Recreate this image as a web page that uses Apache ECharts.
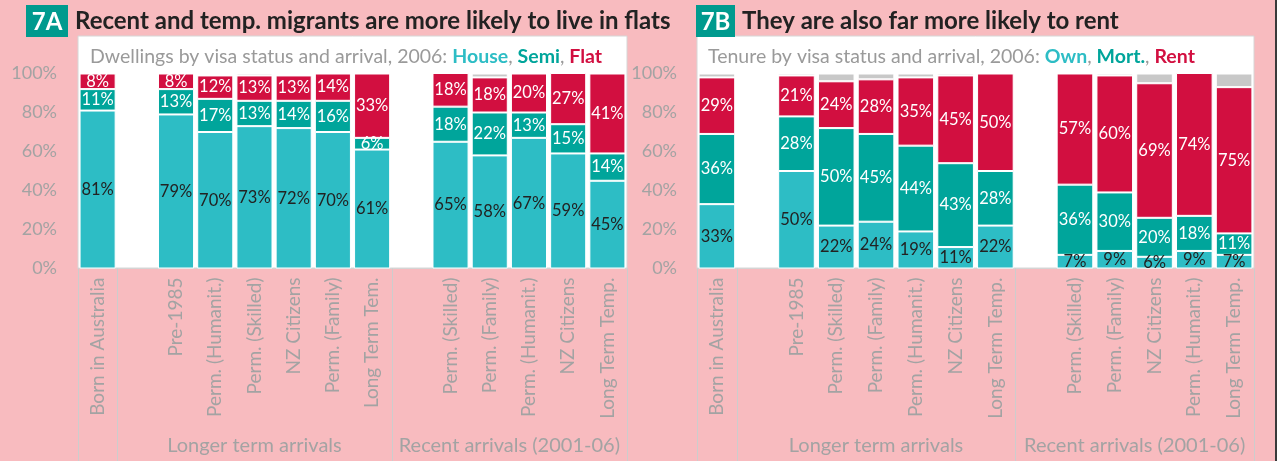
<!DOCTYPE html>
<html>
<head>
<meta charset="utf-8">
<script src="https://cdn.jsdelivr.net/npm/echarts@6/dist/echarts.min.js"></script>
<style>
  html, body { margin: 0; padding: 0; background: #F8BBBF; }
  #chart { width: 1277px; height: 461px; }
</style>
</head>
<body>
<div id="chart"></div>
<script>
// Categories (blank slots separate the arrival groups)
const dwellCats = ['Born in Australia', '', 'Pre-1985', 'Perm. (Humanit.)', 'Perm. (Skilled)', 'NZ Citizens',
  'Perm. (Family)', 'Long Term Tem.', '', 'Perm. (Skilled)', 'Perm. (Family)', 'Perm. (Humanit.)',
  'NZ Citizens', 'Long Term Temp.'];
const tenureCats = ['Born in Australia', '', 'Pre-1985', 'Perm. (Skilled)', 'Perm. (Family)', 'Perm. (Humanit.)',
  'NZ Citizens', 'Long Term Temp.', '', 'Perm. (Skilled)', 'Perm. (Family)', 'NZ Citizens',
  'Perm. (Humanit.)', 'Long Term Temp.'];

// Group boundaries (category index where each group starts, plus the end)
const groupEdges = [0, 1, 8, 14];
const groupNames = ['Longer term arrivals', 'Recent arrivals (2001-06)'];

// 7A: dwelling type, % of group
const house = [81, null, 79, 70, 73, 72, 70, 61, null, 65, 58, 67, 59, 45];
const semi  = [11, null, 13, 17, 13, 14, 16, 6,  null, 18, 22, 13, 15, 14];
const flat  = [8,  null, 8,  12, 13, 13, 14, 33, null, 18, 18, 20, 27, 41];
const dwellOther = [0, null, 0, 0, 1, 0, 0, 0, null, 0, 2, 0, 0, 0];

// 7B: tenure, % of group
const own  = [33, null, 50, 22, 24, 19, 11, 22, null, 7,  9,  6,  9,  7];
const mort = [36, null, 28, 50, 45, 44, 43, 28, null, 36, 30, 20, 18, 11];
const rent = [29, null, 21, 24, 28, 35, 45, 50, null, 57, 60, 69, 74, 75];
const tenureOther = [2, null, 1, 4, 3, 2, 1, 0, null, 0, 1, 5, 0, 7];

const yTicks = [0, 20, 40, 60, 80, 100];

const C_LIGHT = '#2DBDC5', C_DARK = '#00A59B', C_RED = '#D20F40', C_GREY = '#C8C8C8';
const FONT = 'Lato';
const AXIS_GREY = '#A3A3A3';

function pct(p) { return p.value ? p.value + '%' : ''; }

function seg(name, data, color, labelColor, axisIdx) {
  return {
    name: name, type: 'bar', stack: 's' + axisIdx, data: data,
    xAxisIndex: axisIdx, yAxisIndex: axisIdx,
    barCategoryGap: '8%',
    itemStyle: { color: color, borderColor: '#ffffff', borderWidth: 1 },
    label: labelColor ? {
      show: true, position: 'inside', formatter: pct,
      color: labelColor, fontFamily: FONT, fontSize: 16.5
    } : { show: false },
    emphasis: { disabled: true }
  };
}

function xAxis(cats, gridIdx) {
  return {
    type: 'category', gridIndex: gridIdx, data: cats,
    axisLine: { show: true, lineStyle: { color: '#D4D4D4', width: 1 } },
    axisTick: { show: false },
    axisLabel: {
      interval: 0, rotate: 90, margin: 9, color: AXIS_GREY,
      fontFamily: FONT, fontSize: 19
    }
  };
}

function yAxis(gridIdx, margin) {
  return {
    type: 'value', gridIndex: gridIdx, min: yTicks[0], max: yTicks[yTicks.length - 1], interval: 20,
    axisLine: { show: false }, axisTick: { show: false }, splitLine: { show: false },
    axisLabel: { formatter: '{value}%', color: AXIS_GREY, fontFamily: FONT, fontSize: 18, margin: margin }
  };
}

function panelTitle(x, tag, text, tagW) {
  return [
    { type: 'rect', shape: { x: x, y: 5, width: tagW, height: 32 }, style: { fill: '#009A8E' } },
    { type: 'text', x: x + tagW / 2, y: 22, style: {
        text: tag, fill: '#ffffff', font: 'bold 24px ' + FONT, align: 'center', verticalAlign: 'middle' } },
    { type: 'text', x: x + tagW + 7, y: 21, style: {
        text: text, fill: '#222222', font: 'bold 24px ' + FONT, verticalAlign: 'middle' } }
  ];
}

function subTitle(x, lead, names) {
  return {
    type: 'text', x: x, y: 57, z: 5,
    style: {
      text: '{g|' + lead + '}{a|' + names[0] + '}{g|, }{b|' + names[1] + '}{g|, }{c|' + names[2] + '}',
      verticalAlign: 'middle',
      rich: {
        g: { fill: '#9A9A9A', font: '19.5px ' + FONT },
        a: { fill: C_LIGHT, font: 'bold 19.5px ' + FONT },
        b: { fill: C_DARK, font: 'bold 19.5px ' + FONT },
        c: { fill: C_RED, font: 'bold 19.5px ' + FONT }
      }
    }
  };
}

const chart = echarts.init(document.getElementById('chart'), null, { renderer: 'canvas' });

const baseGraphics = [
  { type: 'rect', z: -1, shape: { x: 78, y: 36, width: 549, height: 232 },
    style: { fill: '#ffffff', stroke: '#D6D6D6', lineWidth: 1 } },
  { type: 'rect', z: -1, shape: { x: 697, y: 36, width: 557, height: 232 },
    style: { fill: '#ffffff', stroke: '#D6D6D6', lineWidth: 1 } },
  { type: 'rect', shape: { x: 1275, y: 0, width: 2, height: 461 }, style: { fill: '#3A3A3A' } }
].concat(
  panelTitle(26, '7A', 'Recent and temp. migrants are more likely to live in flats', 42),
  panelTitle(696, '7B', 'They are also far more likely to rent', 39),
  [
    subTitle(90, 'Dwellings by visa status and arrival, 2006: ', ['House', 'Semi', 'Flat']),
    subTitle(708, 'Tenure by visa status and arrival, 2006: ', ['Own', 'Mort.', 'Rent'])
  ]
);

chart.setOption({
  backgroundColor: '#F8BBBF',
  animation: false,
  grid: [
    { left: 78, top: 73.5, width: 549, height: 195 },
    { left: 697, top: 73.5, width: 557, height: 195 }
  ],
  xAxis: [xAxis(dwellCats, 0), xAxis(tenureCats, 1)],
  yAxis: [yAxis(0, 21), yAxis(1, 20)],
  graphic: baseGraphics,
  series: [
    seg('House', house, C_LIGHT, '#222222', 0),
    seg('Semi', semi, C_DARK, '#ffffff', 0),
    seg('Flat', flat, C_RED, '#ffffff', 0),
    seg('Other', dwellOther, C_GREY, null, 0),
    seg('Own', own, C_LIGHT, '#222222', 1),
    seg('Mort.', mort, C_DARK, '#ffffff', 1),
    seg('Rent', rent, C_RED, '#ffffff', 1),
    seg('Other', tenureOther, C_GREY, null, 1)
  ]
});

// Group separators and group names below each category axis, placed from the axis scale
const extra = [];
[0, 1].forEach(function (ax) {
  const c0 = chart.convertToPixel({ xAxisIndex: ax }, 0);
  const c1 = chart.convertToPixel({ xAxisIndex: ax }, 1);
  const band = c1 - c0;
  const edgeX = function (i) { return c0 - band / 2 + i * band; };
  const axisY = chart.convertToPixel({ yAxisIndex: ax }, 0);
  groupEdges.forEach(function (i) {
    const x = Math.round(edgeX(i)) + 0.5;
    extra.push({ type: 'line', z: 1, shape: { x1: x, y1: axisY, x2: x, y2: 461 },
      style: { stroke: '#CDCDCD', lineWidth: 1 } });
  });
  for (let g = 0; g < groupNames.length; g++) {
    const mid = (edgeX(groupEdges[g + 1]) + edgeX(groupEdges[g + 2])) / 2;
    extra.push({ type: 'text', x: mid, y: 446, style: {
      text: groupNames[g], fill: AXIS_GREY, font: '20px ' + FONT, align: 'center', verticalAlign: 'middle' } });
  }
});
chart.setOption({ graphic: baseGraphics.concat(extra) });
</script>
</body>
</html>
